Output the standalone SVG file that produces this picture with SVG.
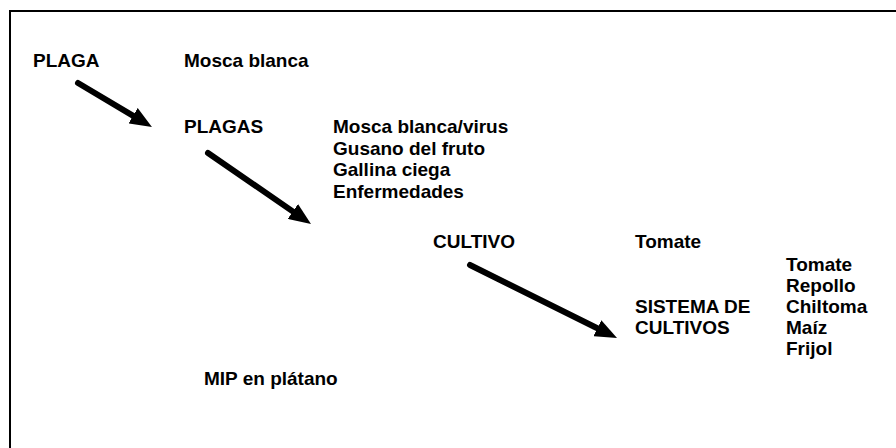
<svg xmlns="http://www.w3.org/2000/svg" width="896" height="448" viewBox="0 0 896 448">
<style>
text{font-family:"Liberation Sans",Arial,Helvetica,sans-serif;font-size:19px;font-weight:bold;fill:#000}
.arr{stroke:#000;stroke-width:6;stroke-linecap:round;fill:none;marker-end:url(#ah)}
</style>
<defs>
<marker id="ah" viewBox="0 0 22 18" refX="9" refY="9" markerWidth="22" markerHeight="18" markerUnits="userSpaceOnUse" orient="auto">
<path d="M0,0 L22,9 L0,18 z" fill="#000"/>
</marker>
</defs>
<rect width="896" height="448" fill="#fff"/>
<g id="frame" stroke="#000" stroke-width="2" fill="none">
<line x1="10" y1="11" x2="896" y2="11"/>
<line x1="10" y1="10" x2="10" y2="448"/>
</g>
<g id="plaga"><text x="33" y="67">PLAGA</text><text x="184" y="67">Mosca blanca</text></g>
<g id="plagas"><text x="184" y="133">PLAGAS</text>
<text x="333" y="133">Mosca blanca/virus</text>
<text x="333" y="154.5">Gusano del fruto</text>
<text x="333" y="176">Gallina ciega</text>
<text x="333" y="197.5">Enfermedades</text></g>
<g id="cultivo"><text x="433" y="248">CULTIVO</text><text x="635" y="248">Tomate</text></g>
<g id="sistema"><text x="635" y="313">SISTEMA DE</text><text x="635" y="334">CULTIVOS</text>
<text x="786" y="271">Tomate</text>
<text x="786" y="292">Repollo</text>
<text x="786" y="313">Chiltoma</text>
<text x="786" y="334">Maíz</text>
<text x="786" y="355">Frijol</text></g>
<g id="mip"><text x="204" y="385">MIP en plátano</text></g>
<g id="connectors">
<line class="arr" x1="78" y1="83" x2="140.8" y2="120.3"/>
<line class="arr" x1="208" y1="153" x2="300.3" y2="216.6"/>
<line class="arr" x1="470" y1="265" x2="605.4" y2="332.2"/>
</g>
</svg>
